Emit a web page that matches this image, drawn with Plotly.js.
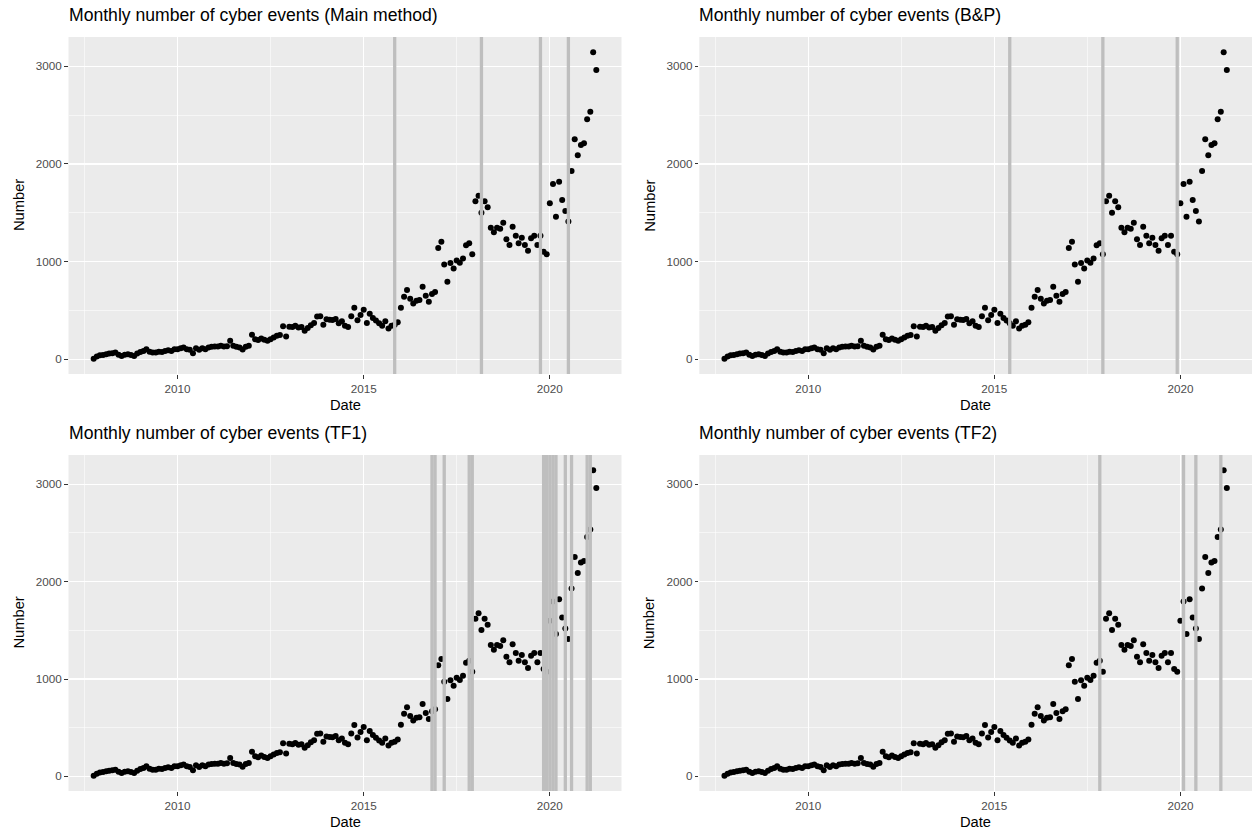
<!DOCTYPE html>
<html><head><meta charset="utf-8">
<script src="https://cdn.plot.ly/plotly-3.0.1.min.js"></script>
<style>html,body{margin:0;padding:0;background:#fff}#chart{width:1252px;height:833px}</style>
</head><body><div id="chart"></div>
<script>
// First observation month (monthly series)
const startYear = 2007, startMonth = 10;

// Monthly number of cyber events, Oct 2007 .. Apr 2021
const counts = [
  7, 28, 41, 45, 52, 59, 62, 69, 48, 34, 48, 52, 45, 34, 59, 76, 86, 103, 79, 69,
  69, 79, 76, 86, 93, 86, 103, 103, 114, 121, 103, 97, 62, 114, 97, 114, 103, 121, 128, 131,
  131, 138, 131, 135, 190, 138, 128, 121, 100, 128, 138, 252, 207, 197, 214, 200, 190, 207, 224, 241,
  248, 340, 235, 334, 330, 343, 325, 330, 293, 321, 350, 372, 438, 440, 355, 410, 405, 403, 414, 370,
  390, 345, 330, 440, 528, 400, 455, 507, 372, 466, 424, 397, 369, 345, 390, 317, 345, 355, 379, 529,
  642, 710, 620, 573, 601, 608, 744, 652, 590, 669, 690, 1140, 1205, 972, 794, 986, 931, 1013, 989, 1033,
  1167, 1188, 1075, 1618, 1676, 1502, 1618, 1556, 1348, 1300, 1348, 1338, 1399, 1229, 1171, 1358, 1266, 1188, 1246, 1171,
  1113, 1239, 1266, 1171, 1266, 1102, 1075, 1597, 1795, 1461, 1819, 1631, 1519, 1410, 1928, 2253, 2089, 2195, 2212, 2457,
  2536, 3143, 2962
];

const panelTitles = [
  'Monthly number of cyber events (Main method)',
  'Monthly number of cyber events (B&P)',
  'Monthly number of cyber events (TF1)',
  'Monthly number of cyber events (TF2)'
];

// Detected break dates per method
const breaksMain = ['2015-11-01', '2018-03-01', '2019-10-01', '2020-07-01'];
const breaksBP   = ['2015-06-01', '2017-12-01', '2019-12-01'];
const breaksTF1  = ['2016-11-01', '2016-12-01', '2017-03-01', '2017-11-01', '2017-12-01',
                    '2019-11-01', '2019-12-01', '2020-01-01', '2020-02-01', '2020-03-01',
                    '2020-06-01', '2020-08-01', '2021-01-01', '2021-02-01'];
const breaksTF2  = ['2017-11-01', '2020-02-01', '2020-06-01', '2021-02-01'];

const yTickVals = [0, 1000, 2000, 3000];
const xAxisLabel = 'Date';
const yAxisLabel = 'Number';

const dates = counts.map((_, k) => {
  const m = startMonth - 1 + k;
  const y = startYear + Math.floor(m / 12);
  const mm = (m % 12) + 1;
  return y + '-' + String(mm).padStart(2, '0') + '-01';
});

const W = 1252, H = 833;
const colDom = [[68.5 / W, 621.5 / W], [699.3 / W, 1252 / W]];
const rowDom = [[1 - 374 / H, 1 - 37 / H], [1 - 791 / H, 1 - 455 / H]];

const panels = [
  {title: panelTitles[0], breaks: breaksMain, col: 0, row: 0},
  {title: panelTitles[1], breaks: breaksBP, col: 1, row: 0},
  {title: panelTitles[2], breaks: breaksTF1, col: 0, row: 1},
  {title: panelTitles[3], breaks: breaksTF2, col: 1, row: 1}
];

const font = 'Liberation Sans, Arial, Helvetica, sans-serif';
const traces = [];
const layout = {
  width: W, height: H,
  margin: {l: 0, r: 0, t: 0, b: 0},
  paper_bgcolor: '#ffffff',
  plot_bgcolor: '#EBEBEB',
  showlegend: false,
  font: {family: font},
  shapes: [],
  annotations: []
};

panels.forEach((p, k) => {
  const n = k === 0 ? '' : String(k + 1);
  const xa = 'x' + n, ya = 'y' + n;
  traces.push({
    type: 'scatter', mode: 'markers', x: dates, y: counts,
    xaxis: xa, yaxis: ya,
    marker: {color: '#000000', size: 6},
    hoverinfo: 'x+y'
  });
  layout['xaxis' + n] = {
    domain: colDom[p.col], anchor: ya, type: 'date',
    range: ['2007-01-27', '2021-12-04'],
    tick0: '2010-01-01', dtick: 'M60', tickformat: '%Y',
    showgrid: true, gridcolor: '#ffffff', gridwidth: 1.1,
    minor: {tick0: '2010-01-01', dtick: 'M30', showgrid: true, gridcolor: '#ffffff', gridwidth: 0.55},
    ticks: 'outside', ticklen: 3.5, tickcolor: '#333333', tickwidth: 1,
    tickfont: {size: 11.7, color: '#4D4D4D', family: font},
    showline: false, zeroline: false, fixedrange: true
  };
  layout['yaxis' + n] = {
    domain: rowDom[p.row], anchor: xa,
    range: [-150, 3300],
    tickvals: yTickVals,
    showgrid: true, gridcolor: '#ffffff', gridwidth: 1.1,
    minor: {tick0: 0, dtick: 500, showgrid: true, gridcolor: '#ffffff', gridwidth: 0.55},
    ticks: 'outside', ticklen: 3.5, tickcolor: '#333333', tickwidth: 1,
    tickfont: {size: 11.7, color: '#4D4D4D', family: font},
    showline: false, zeroline: false, fixedrange: true
  };
  p.breaks.forEach(d => {
    layout.shapes.push({
      type: 'line', xref: xa, yref: ya + ' domain',
      x0: d, x1: d, y0: 0, y1: 1,
      line: {color: '#BEBEBE', width: 3.3}, layer: 'above'
    });
  });
  layout.annotations.push({
    xref: xa + ' domain', yref: ya + ' domain', x: 0, y: 1,
    xanchor: 'left', yanchor: 'middle', yshift: 22, xshift: -2,
    text: p.title, showarrow: false,
    font: {size: 17.6, color: '#000000', family: font}
  });
  layout.annotations.push({
    xref: xa + ' domain', yref: ya + ' domain', x: 0.5, y: 0,
    xanchor: 'center', yanchor: 'middle', yshift: -31,
    text: xAxisLabel, showarrow: false,
    font: {size: 14.7, color: '#000000', family: font}
  });
  layout.annotations.push({
    xref: xa + ' domain', yref: ya + ' domain', x: 0, y: 0.5,
    xanchor: 'center', yanchor: 'middle', xshift: -50, textangle: -90,
    text: yAxisLabel, showarrow: false,
    font: {size: 14.7, color: '#000000', family: font}
  });
});

Plotly.newPlot('chart', traces, layout, {displayModeBar: false, staticPlot: true});
</script>
</body></html>
